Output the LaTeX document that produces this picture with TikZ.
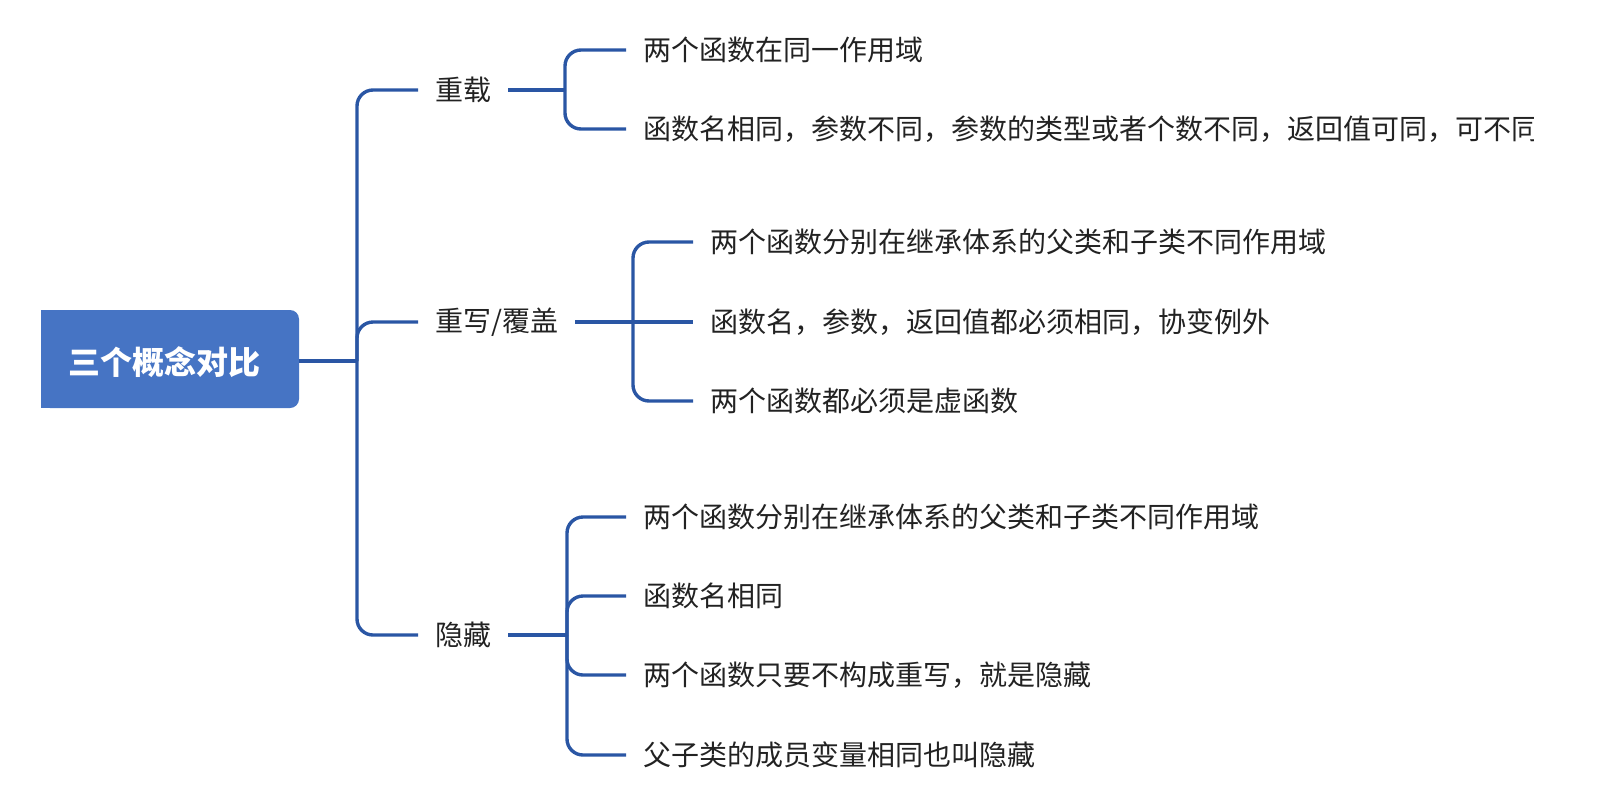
\documentclass[tikz,border=0pt]{standalone}
\usepackage{fontspec}
\setmainfont{Noto Sans CJK SC}
\definecolor{linkblue}{RGB}{42,86,164}
\definecolor{rootblue}{RGB}{70,116,196}
\definecolor{txtgray}{RGB}{34,34,34}
\begin{document}
\begin{tikzpicture}[x=1pt, y=-1pt,
    link/.style={draw=linkblue, line width=3.4pt, rounded corners=16pt},
    branch/.style={anchor=west, inner xsep=17pt, inner ysep=0pt, font=\fontsize{28}{30}\selectfont, text=txtgray},
    leaf/.style={anchor=west, inner xsep=17pt, inner ysep=0pt, font=\fontsize{28}{30}\selectfont, text=txtgray}]
  \useasboundingbox (0, 0) rectangle (1609, 793);

  \fill[rootblue, rounded corners=9pt] (41, 310) rectangle (299, 408);
  \fill[rootblue] (41, 310) rectangle (60, 408);
  \node[text=white, font=\fontsize{32}{34}\selectfont\bfseries] (root) at (164, 362) {三个概念对比};
  \coordinate (rootout) at (299, 361);
  \coordinate (hub) at (357, 361);

  \node[branch] (ovl) at (418, 90) {重载};
  \node[branch] (ovr) at (418, 322) {重写/覆盖};
  \node[branch] (hid) at (418, 635) {隐藏};

  \coordinate (s1) at (565, 90);
  \coordinate (s2) at (633, 322);
  \coordinate (s3) at (567, 635);

  \node[leaf] (a1) at (626, 50) {两个函数在同一作用域};
  \begin{scope}
    \clip (0, 0) rectangle (1533, 793);
    \node[leaf] (a2) at (626, 129) {函数名相同，参数不同，参数的类型或者个数不同，返回值可同，可不同};
  \end{scope}

  \node[leaf] (b1) at (693, 242) {两个函数分别在继承体系的父类和子类不同作用域};
  \node[leaf] (b2) at (693, 322) {函数名，参数，返回值都必须相同，协变例外};
  \node[leaf] (b3) at (693, 401) {两个函数都必须是虚函数};

  \node[leaf] (c1) at (626, 517) {两个函数分别在继承体系的父类和子类不同作用域};
  \node[leaf] (c2) at (626, 596) {函数名相同};
  \node[leaf] (c3) at (626, 675) {两个函数只要不构成重写，就是隐藏};
  \node[leaf] (c4) at (626, 755) {父子类的成员变量相同也叫隐藏};

  \draw[link] (rootout) -- (hub);
  \draw[link] (hub) |- (ovl.west);
  \draw[link] (hub) |- (ovr.west);
  \draw[link] (hub) |- (hid.west);

  \draw[link] (ovl.east) -- (s1);
  \draw[link] (s1) |- (a1.west);
  \draw[link] (s1) |- (a2.west);

  \draw[link] (ovr.east) -- (s2);
  \draw[link] (s2) |- (b1.west);
  \draw[link] (s2) -- (b2.west);
  \draw[link] (s2) |- (b3.west);

  \draw[link] (hid.east) -- (s3);
  \foreach \n in {c1, c2, c3, c4}
    \draw[link] (s3) |- (\n.west);
\end{tikzpicture}
\end{document}
